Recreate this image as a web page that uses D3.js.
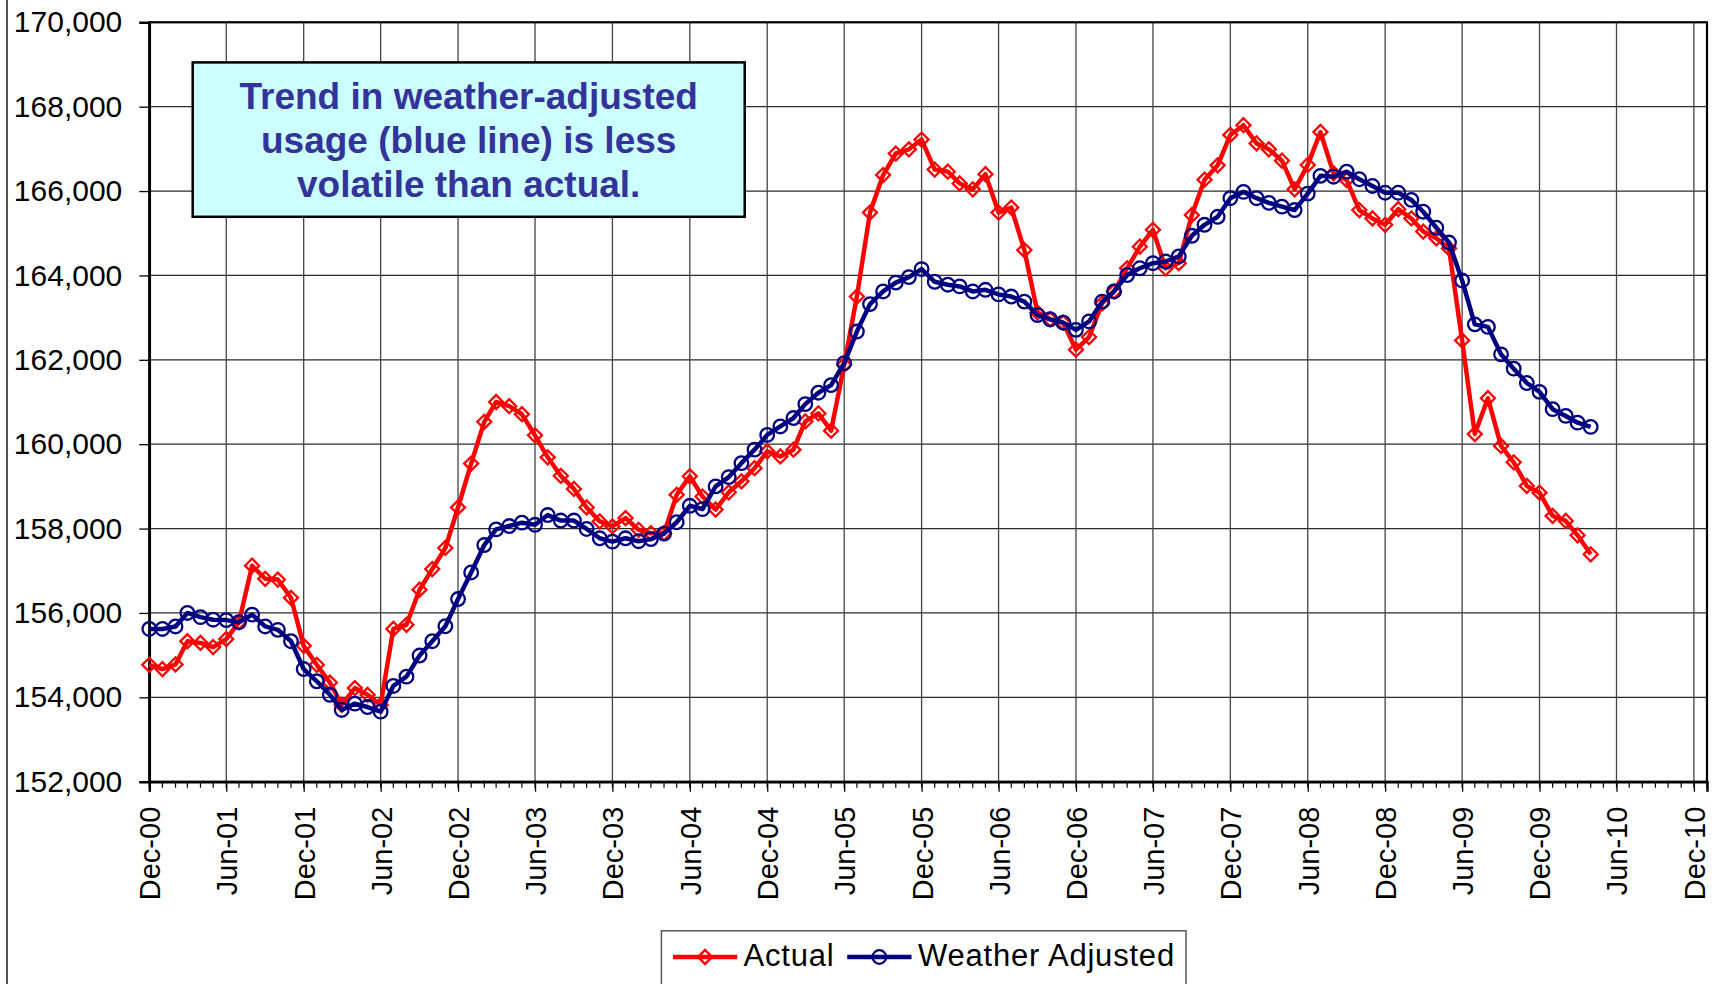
<!DOCTYPE html>
<html>
<head>
<meta charset="utf-8">
<script src="https://cdn.jsdelivr.net/npm/d3@7"></script>
<style>
  body { margin: 0; background: #fff; }
  svg { display: block; font-family: "Liberation Sans", Arial, sans-serif; }
</style>
</head>
<body>
<svg id="chart"></svg>
<script>
// monthly series, first point Dec-00
var firstMonth = "Dec-00";

var actual = [
  154770, 154670, 154780, 155330, 155290, 155190, 155380, 155780, 157120, 156810, 156790, 156360,
  155220, 154770, 154350, 153820, 154220, 154060, 153820, 155620, 155720, 156550, 157040, 157540,
  158500, 159540, 160530, 161000, 160900, 160710, 160210, 159690, 159250, 158940, 158500, 158170,
  158050, 158250, 157970, 157890, 157890, 158800, 159240, 158760, 158450, 158860, 159120, 159430,
  159830, 159710, 159870, 160540, 160730, 160320, 161880, 163500, 165490, 166380, 166890, 166990,
  167220, 166510, 166460, 166180, 166040, 166400, 165490, 165610, 164600, 163120, 162960, 162880,
  162240, 162540, 163340, 163620, 164170, 164680, 165080, 164170, 164290, 165430, 166270, 166610,
  167330, 167560, 167130, 166990, 166720, 166040, 166620, 167400, 166420, 166260, 165550, 165350,
  165200, 165570, 165350, 165040, 164880, 164640, 162460, 160240, 161090, 159960, 159570, 159010,
  158850, 158300, 158180, 157840, 157390
];

var weatherAdjusted = [
  155620, 155620, 155680, 156000, 155900, 155840, 155830, 155780, 155960, 155680, 155600, 155330,
  154670, 154380, 154060, 153700, 153850, 153770, 153660, 154270, 154490, 154990, 155330, 155685,
  156330, 156960, 157610, 157980, 158060, 158140, 158090, 158320, 158190, 158190, 157990, 157770,
  157690, 157770, 157700, 157750, 157880, 158150, 158540, 158460, 159000, 159220, 159550, 159870,
  160220, 160420, 160620, 160950, 161220, 161400, 161920, 162670, 163320, 163620, 163830, 163960,
  164150, 163850, 163780, 163740, 163620, 163660, 163550, 163500, 163380, 163060, 162960, 162880,
  162710, 162910, 163380, 163620, 164010, 164170, 164290, 164330, 164450, 164940, 165200, 165390,
  165830, 165980, 165830, 165720, 165630, 165550, 165940, 166360, 166340, 166460, 166280, 166120,
  165960, 165960, 165790, 165510, 165130, 164780, 163880, 162840, 162780, 162130, 161790, 161450,
  161240, 160830, 160670, 160510, 160410
];

var yTicks = [152000, 154000, 156000, 158000, 160000, 162000, 164000, 166000, 168000, 170000];

var xTickLabels = ["Dec-00", "Jun-01", "Dec-01", "Jun-02", "Dec-02", "Jun-03", "Dec-03",
  "Jun-04", "Dec-04", "Jun-05", "Dec-05", "Jun-06", "Dec-06", "Jun-07", "Dec-07",
  "Jun-08", "Dec-08", "Jun-09", "Dec-09", "Jun-10", "Dec-10"];

var seriesNames = ["Actual", "Weather Adjusted"];

var noteLines = ["Trend in weather-adjusted", "usage (blue line) is less", "volatile than actual."];

var W = 1717, H = 984;
var plotLeft = 149.3, plotRight = 1707, plotTop = 22.3, plotBottom = 781.7;

var parseMonth = d3.timeParse("%b-%y");
var start = parseMonth(firstMonth);
var months = d3.timeMonth.range(start, d3.timeMonth.offset(start, actual.length));

var svg = d3.select("#chart")
    .attr("width", W)
    .attr("height", H);

// outer chart-area border (only the left edge is inside the picture)
svg.append("line")
    .attr("x1", 7).attr("x2", 7)
    .attr("y1", 0).attr("y2", H)
    .attr("stroke", "#555")
    .attr("stroke-width", 2);

var x = d3.scaleTime()
    .domain([start, parseMonth("Jan-11")])
    .range([plotLeft, plotRight]);

var y = d3.scaleLinear()
    .domain([yTicks[0], yTicks[yTicks.length - 1]])
    .range([plotBottom, plotTop]);

var xTickDates = xTickLabels.map(parseMonth);

// gridlines
svg.append("g")
    .selectAll("line")
    .data(yTicks.slice(1))
    .enter().append("line")
    .attr("x1", plotLeft).attr("x2", plotRight)
    .attr("y1", function(d) { return y(d); })
    .attr("y2", function(d) { return y(d); })
    .attr("stroke", "#2a2a2a")
    .attr("stroke-width", 1.3);

svg.append("g")
    .selectAll("line")
    .data(xTickDates.slice(1))
    .enter().append("line")
    .attr("x1", function(d) { return x(d); })
    .attr("x2", function(d) { return x(d); })
    .attr("y1", plotTop).attr("y2", plotBottom)
    .attr("stroke", "#444")
    .attr("stroke-width", 1.3);

// plot area frame
svg.append("rect")
    .attr("x", plotLeft).attr("y", plotTop)
    .attr("width", plotRight - plotLeft)
    .attr("height", plotBottom - plotTop)
    .attr("fill", "none")
    .attr("stroke", "#000")
    .attr("stroke-width", 2.2);

// y axis
var yAxis = svg.append("g")
    .attr("transform", "translate(" + plotLeft + ",0)")
    .call(d3.axisLeft(y).tickValues(yTicks).tickFormat(d3.format(",")).tickSize(10).tickPadding(17));
yAxis.select(".domain").attr("stroke-width", 2.5);
yAxis.selectAll(".tick line").attr("stroke-width", 1.3);
yAxis.selectAll("text")
    .attr("font-size", 30)
    .attr("font-family", "Liberation Sans, Arial, sans-serif")
    .attr("fill", "#000");

// monthly minor ticks
svg.append("g")
    .selectAll("line")
    .data(d3.timeMonth.range(start, d3.timeMonth.offset(parseMonth("Jan-11"), 1)))
    .enter().append("line")
    .attr("x1", function(d) { return x(d); })
    .attr("x2", function(d) { return x(d); })
    .attr("y1", plotBottom).attr("y2", plotBottom + 6)
    .attr("stroke", "#000")
    .attr("stroke-width", 1.2);

// x axis, labels turned upright
var xAxis = svg.append("g")
    .attr("transform", "translate(0," + plotBottom + ")")
    .call(d3.axisBottom(x).tickValues(xTickDates).tickFormat(d3.timeFormat("%b-%y")).tickSize(10));
xAxis.select(".domain").attr("stroke-width", 2.5);
xAxis.selectAll(".tick line").attr("stroke-width", 1.3);
xAxis.selectAll("text")
    .attr("transform", "rotate(-90)")
    .attr("text-anchor", "end")
    .attr("x", -25)
    .attr("y", 0)
    .attr("dy", "0.36em")
    .attr("font-size", 29)
    .attr("font-family", "Liberation Sans, Arial, sans-serif")
    .attr("fill", "#000");

// series
var series = [
  {name: seriesNames[0], values: actual, color: "#ff0000", symbol: "diamond"},
  {name: seriesNames[1], values: weatherAdjusted, color: "#000080", symbol: "circle"}
];

var line = d3.line()
    .x(function(d) { return x(d.date); })
    .y(function(d) { return y(d.value); });

var diamond = d3.symbol().type(d3.symbolSquare).size(98);
var circle = d3.symbol().type(d3.symbolCircle).size(145);

series.forEach(function(s) {
  var pts = s.values.map(function(v, i) { return {date: months[i], value: v}; });
  var g = svg.append("g");

  g.append("path")
      .datum(pts)
      .attr("d", line)
      .attr("fill", "none")
      .attr("stroke", s.color)
      .attr("stroke-width", 4.5)
      .attr("stroke-linejoin", "round");

  g.selectAll("path.mark")
      .data(pts)
      .enter().append("path")
      .attr("class", "mark")
      .attr("d", s.symbol === "diamond" ? diamond : circle)
      .attr("transform", function(d) {
        return "translate(" + x(d.date) + "," + y(d.value) + ")" + (s.symbol === "diamond" ? " rotate(45)" : "");
      })
      .attr("fill", "none")
      .attr("stroke", s.color)
      .attr("stroke-width", 2.3);
});

// annotation box
var note = svg.append("g");
note.append("rect")
    .attr("x", 192.7).attr("y", 62.4)
    .attr("width", 552).attr("height", 154.4)
    .attr("fill", "#ccffff")
    .attr("stroke", "#000")
    .attr("stroke-width", 2.5);
note.selectAll("text")
    .data(noteLines)
    .enter().append("text")
    .attr("x", 468.7)
    .attr("y", function(d, i) { return 109.3 + i * 43.7; })
    .attr("text-anchor", "middle")
    .attr("font-size", 37)
    .attr("font-weight", "bold")
    .attr("fill", "#333399")
    .text(function(d) { return d; });

// legend
var legend = svg.append("g");
legend.append("rect")
    .attr("x", 661.4).attr("y", 930.8)
    .attr("width", 524.6).attr("height", 80)
    .attr("fill", "#fff")
    .attr("stroke", "#555")
    .attr("stroke-width", 1.5);

var legendItems = [
  {x0: 672.9, x1: 737.2, tx: 743.6},
  {x0: 847.2, x1: 911.5, tx: 918}
];

series.forEach(function(s, i) {
  var it = legendItems[i];
  var cx = (it.x0 + it.x1) / 2;
  legend.append("line")
      .attr("x1", it.x0).attr("x2", it.x1)
      .attr("y1", 957).attr("y2", 957)
      .attr("stroke", s.color)
      .attr("stroke-width", 4.5);
  legend.append("path")
      .attr("d", s.symbol === "diamond" ? diamond : circle)
      .attr("transform", "translate(" + cx + ",957)" + (s.symbol === "diamond" ? " rotate(45)" : ""))
      .attr("fill", "none")
      .attr("stroke", s.color)
      .attr("stroke-width", 2.3);
  legend.append("text")
      .attr("x", it.tx)
      .attr("y", 965.5)
      .attr("font-size", 31)
      .attr("letter-spacing", 0.8)
      .attr("fill", "#000")
      .text(s.name);
});
</script>
</body>
</html>
